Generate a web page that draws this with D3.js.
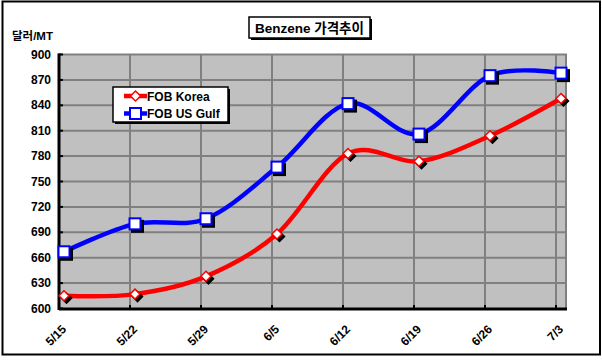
<!DOCTYPE html>
<html><head><meta charset="utf-8">
<script src="https://cdn.jsdelivr.net/npm/d3@7"></script>
<style>
body{margin:0;background:#fff;}
text{font-family:"Liberation Sans","Noto Sans CJK KR",Arial,sans-serif;font-weight:bold;}
</style></head>
<body><svg id="c" width="602" height="361"></svg>
<script>
const categories = ["5/15","5/22","5/29","6/5","6/12","6/19","6/26","7/3"];
const korea = [615, 617, 638, 688, 783, 774, 804, 848];
const usGulf = [667, 700, 706, 767, 842, 806, 875, 878];
const yTicks = [600,630,660,690,720,750,780,810,840,870,900];
const seriesNames = ["FOB Korea","FOB US Gulf"];

const svg = d3.select("#c");
// outer border
svg.append("rect").attr("x",2.5).attr("y",1.5).attr("width",597.5).attr("height",353).attr("fill","#fff").attr("stroke","#000").attr("stroke-width",2);

const L=59, R=566, T=54.5, B=309;
const x = d3.scalePoint().domain(categories).range([64,561]);
const y = d3.scaleLinear().domain([600,900]).range([308.5,54.5]);

svg.append("rect").attr("x",L).attr("y",T).attr("width",R-L).attr("height",B-T).attr("fill","#C0C0C0").attr("stroke","#808080").attr("stroke-width",2);

// gridlines
const g = svg.append("g");
g.selectAll(".hg").data(yTicks.filter(v=>v>600&&v<900)).join("line")
 .attr("x1",L).attr("x2",R).attr("y1",d=>y(d)).attr("y2",d=>y(d))
 .attr("stroke","#808080").attr("stroke-width",2);
g.selectAll(".vg").data(categories.slice(1)).join("line")
 .attr("x1",d=>x(d)-5).attr("x2",d=>x(d)-5).attr("y1",T).attr("y2",B)
 .attr("stroke","#808080").attr("stroke-width",2);
// ticks
g.selectAll(".yt").data(yTicks).join("line")
 .attr("x1",L).attr("x2",L+4).attr("y1",d=>y(d)).attr("y2",d=>y(d)).attr("stroke","#000").attr("stroke-width",2);
g.selectAll(".xt").data(categories.slice(1)).join("line")
 .attr("x1",d=>x(d)-5).attr("x2",d=>x(d)-5).attr("y1",B-4).attr("y2",B).attr("stroke","#000").attr("stroke-width",2);
// axes lines
svg.append("line").attr("x1",L).attr("x2",L).attr("y1",T-1).attr("y2",B+1).attr("stroke","#000").attr("stroke-width",3);
svg.append("line").attr("x1",L).attr("x2",R+1).attr("y1",B).attr("y2",B).attr("stroke","#000").attr("stroke-width",3);

// y labels
svg.selectAll(".yl").data(yTicks).join("text")
 .attr("x",51).attr("y",d=>y(d)+4).attr("text-anchor","end").attr("font-size",12).attr("fill","#000").text(d=>d);
// x labels
svg.selectAll(".xl").data(categories).join("text")
 .attr("transform",d=>`translate(${x(d)+3},${330}) rotate(-45)`)
 .attr("text-anchor","end").attr("font-size",12).attr("fill","#000").text(d=>d);

svg.append("text").attr("x",12).attr("y",40).attr("font-size",11.5).text("달러/MT");

// lines
const line = d3.line().x((d,i)=>x(categories[i])).y(d=>y(d)).curve(d3.curveCardinal.tension(0));
const series = [{v:korea,c:"#FF0000",m:"diamond"},{v:usGulf,c:"#0000FF",m:"square"}];
series.forEach(s=>{
  svg.append("path").attr("d",line(s.v)).attr("fill","none").attr("stroke",s.c).attr("stroke-width",4.5);
});
function marker(sel, type, cx, cy, color, shadow){
  if(type==="diamond"){
    sel.append("path").attr("d",`M${cx},${cy-5}L${cx+5},${cy}L${cx},${cy+5}L${cx-5},${cy}Z`)
      .attr("fill",shadow?"#000":"#fff").attr("stroke",shadow?"#000":color).attr("stroke-width",1.5);
  } else {
    sel.append("rect").attr("x",cx-5.5).attr("y",cy-5.5).attr("width",11).attr("height",11)
      .attr("fill",shadow?"#000":"#fff").attr("stroke",shadow?"#000":color).attr("stroke-width",2);
  }
}
series.forEach(s=>{
  s.v.forEach((v,i)=>{
    const cx=x(categories[i]), cy=y(v);
    marker(svg, s.m, cx+2.5, cy+2.5, s.c, true);
    marker(svg, s.m, cx, cy, s.c, false);
  });
});

// legend
svg.append("rect").attr("x",115).attr("y",89).attr("width",115).attr("height",35).attr("fill","#000");
svg.append("rect").attr("x",113).attr("y",87).attr("width",115).attr("height",35).attr("fill","#fff").attr("stroke","#000").attr("stroke-width",1.5);
series.forEach((s,i)=>{
  const ly = 96 + i*17.5;
  svg.append("line").attr("x1",124).attr("x2",147).attr("y1",ly).attr("y2",ly).attr("stroke",s.c).attr("stroke-width",4.5);
  marker(svg, s.m, 135.5, ly, s.c, false);
  svg.append("text").attr("x",147).attr("y",ly+4.5).attr("font-size",12).text(seriesNames[i]);
});

// title
svg.append("rect").attr("x",251).attr("y",19).attr("width",121).attr("height",21).attr("fill","#000");
svg.append("rect").attr("x",249).attr("y",17).attr("width",121).attr("height",21).attr("fill","#fff").attr("stroke","#000").attr("stroke-width",1.5);
svg.append("text").attr("x",309.5).attr("y",32.5).attr("text-anchor","middle").attr("font-size",13.5).text("Benzene 가격추이");
</script></body></html>
